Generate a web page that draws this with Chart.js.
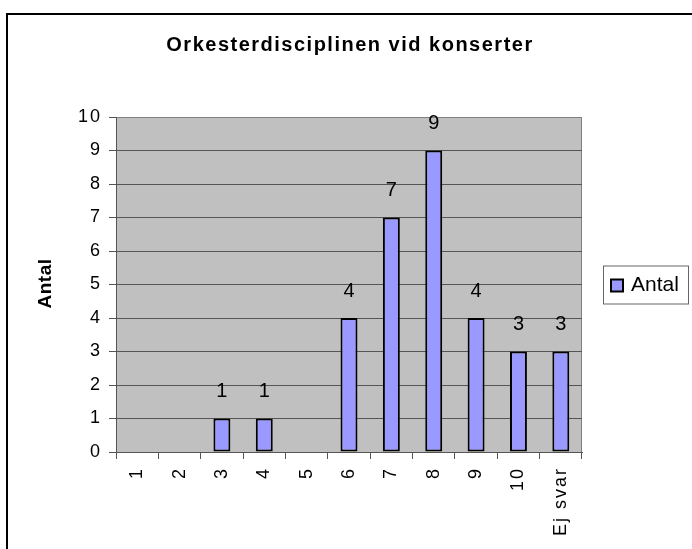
<!DOCTYPE html>
<html>
<head>
<meta charset="utf-8">
<title>Orkesterdisciplinen vid konserter</title>
<script src="https://cdn.jsdelivr.net/npm/chart.js"></script>
<style>
  body { margin: 0; background: #fff; }
  canvas { display: block; }
</style>
</head>
<body>
<canvas id="stapel" width="692" height="549"></canvas>
<script>
// Data
const rubrik = "Orkesterdisciplinen vid konserter";
const serieNamn = "Antal";
const yRubrik = "Antal";
const kategorier = ["1", "2", "3", "4", "5", "6", "7", "8", "9", "10", "Ej svar"];
const antal = [0, 0, 1, 1, 0, 4, 7, 9, 4, 3, 3];
const yMin = 0;
const yMax = 10;
const ySteg = 1;

const typsnitt = '"Liberation Sans", Arial, sans-serif';

// Ram runt diagrammet och grå rityta
const bakgrund = {
    id: 'bakgrund',
    beforeDraw(chart) {
        const ctx = chart.ctx;
        const a = chart.chartArea;
        ctx.save();
        ctx.strokeStyle = '#000';
        ctx.lineWidth = 2;
        ctx.beginPath();
        ctx.moveTo(7, chart.height + 2);
        ctx.lineTo(7, 14);
        ctx.lineTo(chart.width + 2, 14);
        ctx.stroke();

        ctx.fillStyle = '#c0c0c0';
        ctx.fillRect(a.left, a.top, a.right - a.left, a.bottom - a.top);
        ctx.strokeStyle = '#808080';
        ctx.lineWidth = 1;
        ctx.beginPath();
        ctx.moveTo(a.left, a.top + 0.5);
        ctx.lineTo(a.right - 0.5, a.top + 0.5);
        ctx.lineTo(a.right - 0.5, a.bottom);
        ctx.stroke();
        ctx.restore();
        // lite luftigare text på axlarna
        ctx.letterSpacing = '2px';
    }
};

// Värden ovanför staplarna
const etiketter = {
    id: 'etiketter',
    afterDatasetsDraw(chart) {
        const ctx = chart.ctx;
        const meta = chart.getDatasetMeta(0);
        ctx.save();
        ctx.font = '20px ' + typsnitt;
        ctx.letterSpacing = '0px';
        ctx.fillStyle = '#000';
        ctx.textAlign = 'center';
        ctx.textBaseline = 'middle';
        meta.data.forEach((stapel, i) => {
            const v = chart.data.datasets[0].data[i];
            if (!v) return;
            ctx.fillText(String(v), stapel.x, stapel.y - 27);
        });
        ctx.restore();
    }
};

// Rubrik, axelrubrik och förklaring
const rubrikOchForklaring = {
    id: 'rubrikOchForklaring',
    afterDraw(chart) {
        const ctx = chart.ctx;
        const a = chart.chartArea;
        const ds = chart.data.datasets[0];
        const mitt = (a.top + a.bottom) / 2;
        ctx.save();
        ctx.fillStyle = '#000';
        ctx.font = 'bold 20px ' + typsnitt;
        ctx.letterSpacing = '1.5px';
        ctx.textAlign = 'center';
        ctx.textBaseline = 'middle';
        ctx.fillText(rubrik, (a.left + a.right) / 2 + 1, 45);

        // y-axelns rubrik, roterad
        ctx.save();
        ctx.translate(46, mitt - 1);
        ctx.rotate(-Math.PI / 2);
        ctx.font = 'bold 19px ' + typsnitt;
        ctx.letterSpacing = '0.5px';
        ctx.fillText(yRubrik, 0, 0);
        ctx.restore();

        // förklaringsruta
        ctx.letterSpacing = '0px';
        ctx.fillStyle = '#fff';
        ctx.fillRect(603.5, mitt - 18.5, 85, 38);
        ctx.strokeStyle = '#666';
        ctx.lineWidth = 1;
        ctx.strokeRect(603.5, mitt - 18.5, 85, 38);

        ctx.fillStyle = ds.backgroundColor;
        ctx.fillRect(611, mitt - 5, 12, 12);
        ctx.strokeStyle = '#000';
        ctx.lineWidth = 2;
        ctx.strokeRect(611, mitt - 5, 12, 12);

        ctx.fillStyle = '#000';
        ctx.font = '21px ' + typsnitt;
        ctx.textAlign = 'left';
        ctx.fillText(ds.label, 631, mitt + 1);
        ctx.restore();
    }
};

new Chart(document.getElementById('stapel'), {
    type: 'bar',
    data: {
        labels: kategorier,
        datasets: [{
            label: serieNamn,
            data: antal,
            backgroundColor: '#9999ff',
            borderColor: '#000',
            borderWidth: 2,
            borderSkipped: false,
            barPercentage: 0.5,
            categoryPercentage: 0.8
        }]
    },
    options: {
        responsive: false,
        animation: false,
        layout: {
            padding: { top: 117, right: 110, left: 0, bottom: 0 }
        },
        plugins: {
            legend: { display: false },
            title: { display: false },
            tooltip: { enabled: false }
        },
        scales: {
            x: {
                offset: true,
                afterFit(scale) { scale.height = 97; },
                grid: {
                    offset: true,
                    drawOnChartArea: false,
                    tickLength: 7,
                    color: '#555'
                },
                border: { color: '#555', width: 1 },
                ticks: {
                    autoSkip: false,
                    minRotation: 90,
                    maxRotation: 90,
                    padding: 8,
                    color: '#000',
                    font: { family: typsnitt, size: 18 }
                }
            },
            y: {
                min: yMin,
                max: yMax,
                afterFit(scale) { scale.width = 116; },
                grid: {
                    tickLength: 7,
                    color: (c) => (c.tick && c.tick.value === yMax) ? '#808080' : '#555',
                    tickColor: '#555'
                },
                border: { color: '#555', width: 1 },
                ticks: {
                    stepSize: ySteg,
                    padding: 7,
                    color: '#000',
                    font: { family: typsnitt, size: 18 }
                }
            }
        }
    },
    plugins: [bakgrund, etiketter, rubrikOchForklaring]
});
</script>
</body>
</html>
